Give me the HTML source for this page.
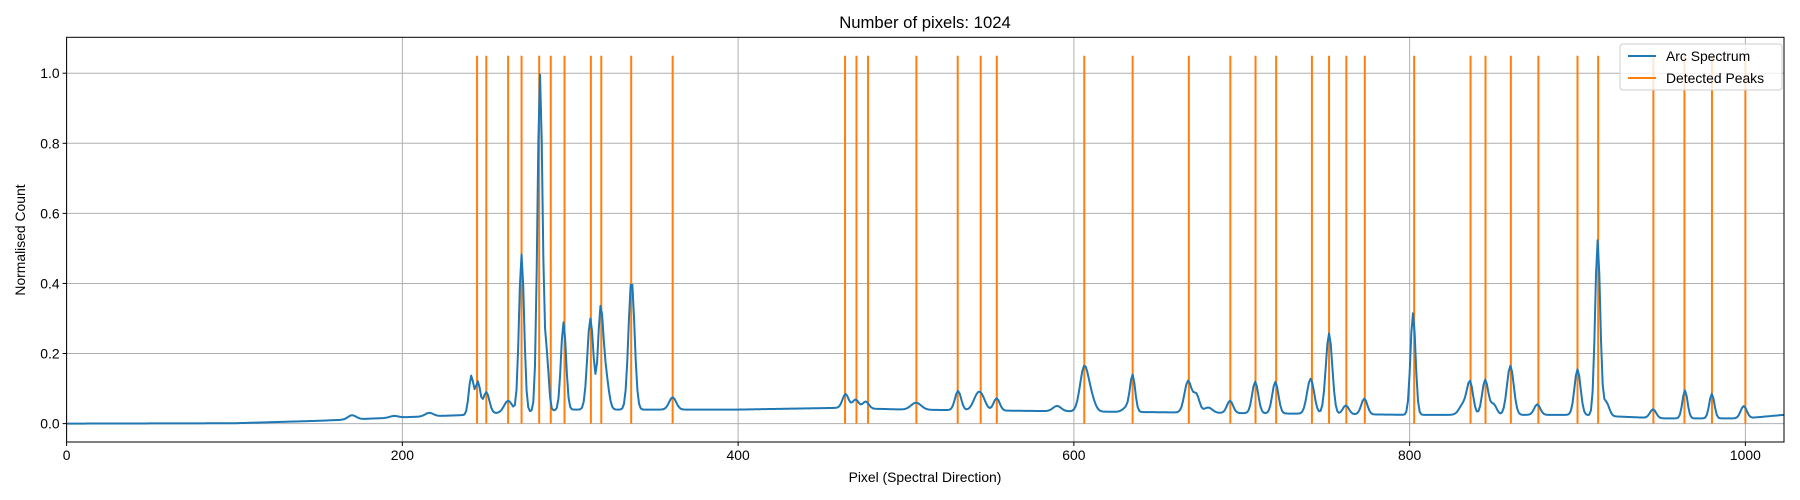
<!DOCTYPE html>
<html><head><meta charset="utf-8"><style>
body{margin:0;background:#fff}
svg{display:block;font-family:"Liberation Sans","DejaVu Sans",sans-serif}
</style></head><body>
<svg id="chart" width="1800" height="500" viewBox="0 0 1800 500">
<rect x="0" y="0" width="1800" height="500" fill="#fff"/>
<text x="925" y="28" font-size="16.7" text-anchor="middle" fill="#000">Number of pixels: 1024</text>
<g id="grid"></g>
<g id="peaks"></g>
<g id="series"></g>
<rect x="66.6" y="37.3" width="1717.4" height="404.7" fill="none" stroke="#000" stroke-width="1"/>
<g id="ticks"></g>
<text x="925" y="482" font-size="13.9" text-anchor="middle">Pixel (Spectral Direction)</text>
<text transform="translate(25,240) rotate(-90)" font-size="13.9" text-anchor="middle">Normalised Count</text>
<g>
<rect x="1620" y="44" width="162" height="46" rx="3" fill="#fff" fill-opacity="0.8" stroke="#ccc"/>
<line x1="1628" y1="56" x2="1656" y2="56" stroke="#1f77b4" stroke-width="2"/>
<text x="1666" y="61" font-size="13.9">Arc Spectrum</text>
<line x1="1628" y1="78" x2="1656" y2="78" stroke="#ff7f0e" stroke-width="2"/>
<text x="1666" y="83" font-size="13.9">Detected Peaks</text>
</g>
</svg>
<script>
const xTicks=[0,200,400,600,800,1000];
const yTicks=[0.0,0.2,0.4,0.6,0.8,1.0];
const peakPositions=[244.5,250,263,271,281.5,288.4,296.6,312.3,318.5,336.3,361,463.7,470.5,477.4,506.2,530.8,544.5,554.1,606.2,635,668.5,693.2,708.2,720.5,741.8,752,762.3,773.3,802.7,836.3,845.2,860.3,876.7,900,912.3,945.2,963.7,980.1,1000];
const peakLineHeight=1.05;
const baseX=[0,100,150,200,240,250,262,300,350,400,460,500,600,700,800,900,950,1000,1023];
const baseY=[0,0.001,0.008,0.018,0.025,0.03,0.03,0.04,0.04,0.04,0.045,0.04,0.035,0.03,0.025,0.025,0.015,0.015,0.025];
const linePos=[170,195,216,241,245,250,263,271,282,286,296,312,318,321,336.5,361,464,470,476,506,531,542,545,554,590,606,610,632,635,668,673,680,693,708,720,741,752,762,773,802,832,836,845,850,860,876,900,912,917,945,964,980,999];
const lineAmp=[0.012,0.005,0.01,0.11,0.09,0.06,0.035,0.45,0.96,0.15,0.25,0.26,0.27,0.1,0.37,0.035,0.04,0.025,0.02,0.02,0.055,0.03,0.035,0.035,0.015,0.12,0.04,0.015,0.1,0.09,0.05,0.015,0.035,0.09,0.09,0.1,0.23,0.025,0.045,0.29,0.03,0.09,0.1,0.03,0.14,0.03,0.13,0.5,0.04,0.025,0.08,0.07,0.035];
const lineSig=[2.4,2.4,2.4,1.4,1.4,1.8,2.4,1.5,1.5,1.2,1.5,1.8,1.5,1.8,1.8,2.1,1.8,1.8,1.8,3,1.8,2.4,2.4,1.8,2.4,2.4,2.4,2.4,1.5,2.1,1.8,2.4,1.8,1.8,1.8,2.1,1.9,1.8,1.8,1.5,2.4,1.8,1.8,1.8,2,1.8,1.8,1.5,1.8,1.8,1.5,1.5,1.8];
const NS='http://www.w3.org/2000/svg';
const L=66.6,R=1784,T=37.3,B=442;
const xmin=0,xmax=1023,ymin=-0.0525,ymax=1.1025;
const sx=v=>L+(v-xmin)/(xmax-xmin)*(R-L);
const sy=v=>B-(v-ymin)/(ymax-ymin)*(B-T);
function mk(tag,attrs,parent){const e=document.createElementNS(NS,tag);for(const k in attrs)e.setAttribute(k,attrs[k]);parent.appendChild(e);return e;}
const grid=document.getElementById('grid'),ticks=document.getElementById('ticks');
xTicks.forEach(v=>{
 const g=mk('line',{x1:sx(v),x2:sx(v),y1:T,y2:B,stroke:'#b0b0b0','stroke-width':1},grid);
 
 
 mk('line',{x1:sx(v),x2:sx(v),y1:B,y2:B+4,stroke:'#000'},ticks);
 const t=mk('text',{x:sx(v),y:B+18,'font-size':13.9,'text-anchor':'middle'},ticks);t.textContent=v;
 
 
});
yTicks.forEach(v=>{
 const g=mk('line',{x1:L,x2:R,y1:sy(v),y2:sy(v),stroke:'#b0b0b0','stroke-width':1},grid);
 
 
 mk('line',{x1:L-4,x2:L,y1:sy(v),y2:sy(v),stroke:'#000'},ticks);
 const t=mk('text',{x:L-7,y:sy(v)+5,'font-size':13.9,'text-anchor':'end'},ticks);t.textContent=v.toFixed(1);
 
 
});
const pk=document.getElementById('peaks');
peakPositions.forEach(p=>{
 const l=mk('line',{x1:sx(p),x2:sx(p),y1:sy(0),y2:sy(peakLineHeight),stroke:'#ff7f0e','stroke-width':2},pk);
 
 
});
function base(x){for(let i=0;i<baseX.length-1;i++){if(x<=baseX[i+1]){const f=(x-baseX[i])/(baseX[i+1]-baseX[i]);return baseY[i]+f*(baseY[i+1]-baseY[i]);}}return baseY[baseY.length-1];}
let pts=[];
for(let x=0;x<1024;x++){let y=base(x);for(let j=0;j<linePos.length;j++){const d=(x-linePos[j])/lineSig[j];if(Math.abs(d)<6)y+=lineAmp[j]*Math.exp(-0.5*d*d);}pts.push(sx(x).toFixed(2)+','+sy(y).toFixed(2));}
const pl=mk('polyline',{points:pts.join(' '),fill:'none',stroke:'#1f77b4','stroke-width':2,'stroke-linejoin':'round'},document.getElementById('series'));


</script>
</body></html>
